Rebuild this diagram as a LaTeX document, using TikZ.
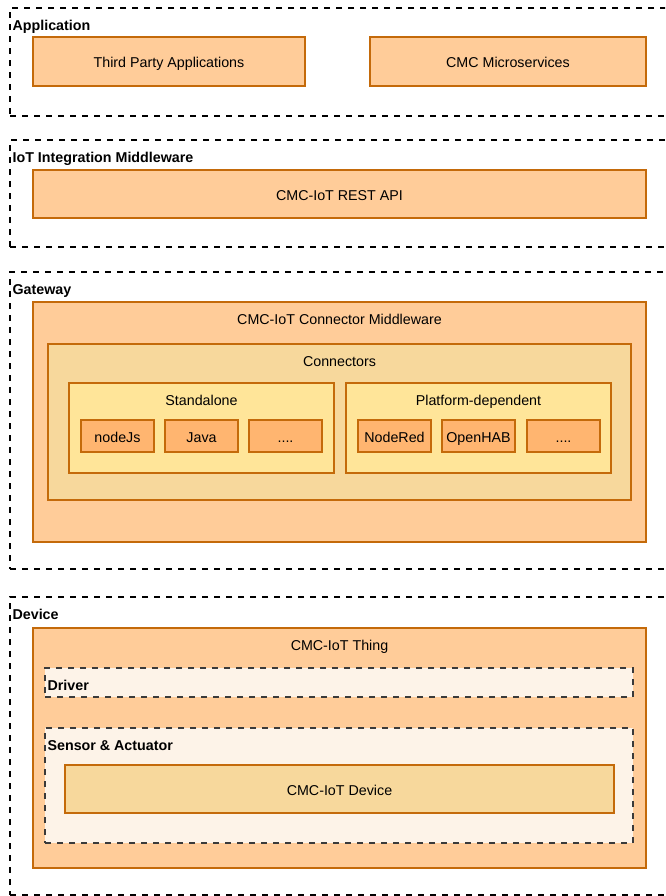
\documentclass[tikz,border=0pt]{standalone}
\usepackage{fontspec}
\setmainfont{Liberation Sans}
\usetikzlibrary{calc}
\usetikzlibrary{fit}

\definecolor{boxfill}{HTML}{FFCC99}
\definecolor{boxline}{HTML}{C46A0A}
\definecolor{connfill}{HTML}{F7D89C}
\definecolor{groupfill}{HTML}{FFE599}
\definecolor{itemfill}{HTML}{FFB570}
\definecolor{hwfill}{HTML}{FDF3E8}
\definecolor{hwline}{HTML}{3A3A3A}

\tikzset{
  layer/.style={draw=black, line width=1.5pt, dash pattern=on 4.5pt off 4.5pt, inner sep=0pt},
  box/.style={draw=boxline, fill=boxfill, line width=1.5pt, inner sep=0pt},
  hwbox/.style={draw=hwline, fill=hwfill, line width=1.5pt, dash pattern=on 4.5pt off 4.5pt, inner sep=0pt},
  lbl/.style={anchor=west, font=\fontsize{10.7}{13}\selectfont\bfseries, inner sep=1pt, text height=7.7pt, text depth=2.1pt, yshift=-1.6pt},
  title/.style={font=\fontsize{10.7}{13}\selectfont, inner sep=1pt, text height=7.7pt, text depth=2.1pt, yshift=-1.9pt}
}
\newcommand{\moretxt}{....}

\begin{document}
\begin{tikzpicture}[x=0.75pt, y=-0.75pt]
\path[use as bounding box, clip] (0,0) rectangle (665,896);

% layers
\node[layer, fit={(10,8) (680,116)}] (lApp) {};
\node[layer, fit={(10,140) (680,247)}] (lIot) {};
\node[layer, fit={(10,272) (680,569)}] (lGw) {};
\node[layer, fit={(10,597) (680,895)}] (lDev) {};
\node[lbl] (tApp) at (11,25) {Application};
\node[lbl] (tIot) at (11,157) {IoT Integration Middleware};
\node[lbl] (tGw) at (11,289) {Gateway};
\node[lbl] (tDev) at (11,614) {Device};

% application
\node[box, fit={(33,37) (305,86)}] (tpa) {};
\node[title] (tTpa) at (tpa.center) {Third Party Applications};
\node[box, fit={(370,37) (646,86)}] (cms) {};
\node[title] (tCms) at (cms.center) {CMC Microservices};

% middleware
\node[box, fit={(33,170) (646,218)}] (api) {};
\node[title] (tApi) at (api.center) {CMC-IoT REST API};

% gateway
\node[box, fit={(33,302) (646,542)}] (cmw) {};
\node[title] (tCmw) at ($(cmw.north)+(0,17)$) {CMC-IoT Connector Middleware};
\node[box, fill=connfill, fit={(48,344) (631,500)}] (conn) {};
\node[title] (tConn) at ($(conn.north)+(0,17)$) {Connectors};
\node[box, fill=groupfill, fit={(69,383) (334,473)}] (sa) {};
\node[title] (tSa) at ($(sa.north)+(0,17)$) {Standalone};
\node[box, fill=groupfill, fit={(346,383) (611,473)}] (pd) {};
\node[title] (tPd) at ($(pd.north)+(0,17)$) {Platform-dependent};
\foreach \x/\t/\n in {81/nodeJs/nj, 165/Java/jv, 249/\moretxt/sx, 358/NodeRed/nr, 442/OpenHAB/oh, 527/\moretxt/px}{
  \node[box, fill=itemfill, fit={(\x,420) (\x+73,452)}] (\n) {};
  \node[title] at (\n.center) {\t};
}

% device
\node[box, fit={(33,628) (646,868)}] (thing) {};
\node[title] (tThing) at ($(thing.north)+(0,17)$) {CMC-IoT Thing};
\node[hwbox, fit={(45,668) (633,697)}] (drv) {};
\node[lbl] (tDrv) at (46,685) {Driver};
\node[hwbox, fit={(45,728) (633,843)}] (sens) {};
\node[lbl] (tSens) at (46,745) {Sensor \& Actuator};
\node[box, fill=connfill, fit={(65,765) (614,813)}] (dev) {};
\node[title] (tDev2) at (dev.center) {CMC-IoT Device};

\end{tikzpicture}
\end{document}
